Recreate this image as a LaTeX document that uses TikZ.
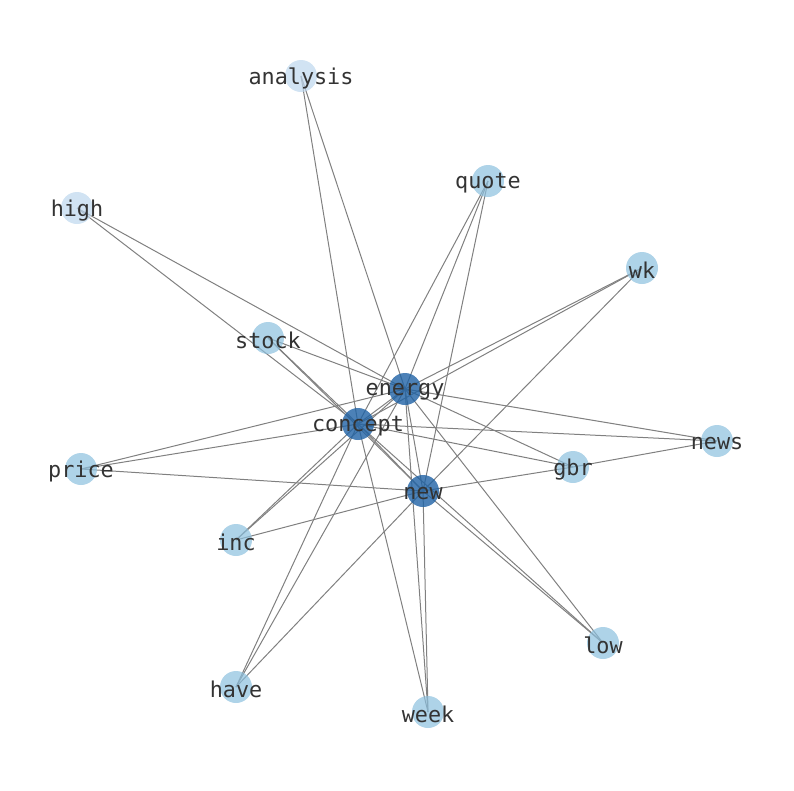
\documentclass[tikz,border=0pt]{standalone}
\usepackage{fontspec}
\newfontfamily\lblfont{DejaVu Sans Mono}
\usetikzlibrary{backgrounds}
\definecolor{hubblue}{RGB}{31,98,165}
\definecolor{leafblue}{RGB}{140,192,222}
\definecolor{paleblue}{RGB}{190,215,238}
\definecolor{lbltext}{RGB}{51,51,51}
\definecolor{edgegray}{RGB}{128,128,128}
\tikzset{
  word/.style={circle,minimum size=32pt,inner sep=0pt,draw=none,fill opacity=0.7,
    label={[text=lbltext,font=\lblfont\fontsize{21.8}{22}\selectfont,text opacity=1,yshift=-2.5pt]center:#1}},
  hub/.style={word=#1,fill=hubblue,fill opacity=0.8},
  leaf/.style={word=#1,fill=leafblue},
  pale/.style={word=#1,fill=paleblue},
  link/.style={draw=edgegray,line width=1pt}
}
\begin{document}
\begin{tikzpicture}[x=1pt,y=-1pt]
    \useasboundingbox (0,0) rectangle (794,790);
    \node[hub=energy] (energy) at (405,389) {};
    \node[hub=concept] (concept) at (358,424) {};
    \node[hub=new] (new) at (423,491) {};

    \node[pale=analysis] (analysis) at (301,76) {};
    \node[pale=high] (high) at (77,208) {};
    \node[leaf=quote] (quote) at (488,181) {};
    \node[leaf=wk] (wk) at (642,268) {};
    \node[leaf=stock] (stock) at (268,338) {};
    \node[leaf=news] (news) at (717,441) {};
    \node[leaf=price] (price) at (81,469) {};
    \node[leaf=gbr] (gbr) at (573,467) {};
    \node[leaf=inc] (inc) at (236,540) {};
    \node[leaf=low] (low) at (603,643) {};
    \node[leaf=have] (have) at (236,687) {};
    \node[leaf=week] (week) at (428,712) {};

    \begin{scope}[on background layer]
        \draw[link] (energy.center)--(concept.center);
        \draw[link] (concept.center)--(new.center);
        \draw[link] (energy.center)--(new.center);
        \foreach \w in {analysis,high}{
            \draw[link] (\w.center)--(energy.center);
            \draw[link] (\w.center)--(concept.center);
        }
        \foreach \w in {quote,wk,stock,price,gbr,inc,low,have,week}{
            \draw[link] (\w.center)--(energy.center);
            \draw[link] (\w.center)--(concept.center);
            \draw[link] (\w.center)--(new.center);
        }
        \draw[link] (news.center)--(energy.center);
        \draw[link] (news.center)--(concept.center);
        \draw[link] (news.center)--(gbr.center);
    \end{scope}
\end{tikzpicture}
\end{document}
